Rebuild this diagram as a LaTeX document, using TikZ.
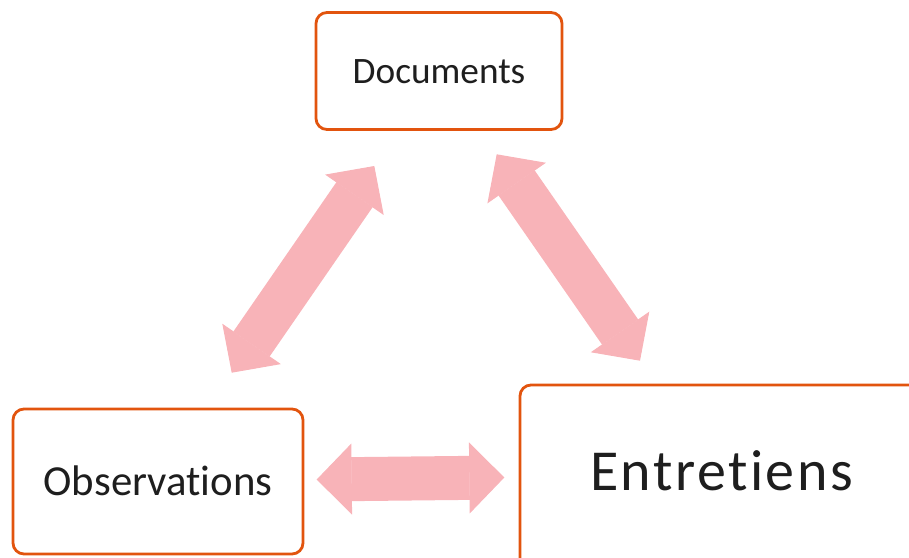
\documentclass[tikz,border=0pt]{standalone}
\usepackage{fontspec}
\setmainfont{Carlito}[RawFeature={-liga}]
\newfontfamily\widecarlito{Carlito}[RawFeature={-liga}, LetterSpace=4.3]
\usetikzlibrary{arrows.meta}
\definecolor{boxline}{RGB}{226,84,14}
\definecolor{linkpink}{RGB}{248,179,184}
\definecolor{inktext}{RGB}{30,30,30}
\tikzset{
  framebox/.style={draw=boxline, line width=2.8pt, rounded corners=11pt,
    fill=white, inner sep=0pt, text=inktext, text depth=0pt},
  blocklink/.style={draw=linkpink, line width=44pt,
    {Triangle[length=35pt, width=71pt, line width=1pt]}-{Triangle[length=35pt, width=71pt, line width=1pt]}}
}
\begin{document}
\begin{tikzpicture}[x=1pt, y=-1pt]
  \useasboundingbox (0,0) rectangle (909,557);
  \begin{scope}
    \clip (0,0) rectangle (909,557);
    % the three sources
    \node[framebox, minimum width=246pt, minimum height=117pt, text height=24pt,
      font=\fontsize{37.3}{40}\selectfont] (doc) at (439,71) {Documents};
    \node[framebox, minimum width=290pt, minimum height=145pt, text height=27.5pt,
      font=\fontsize{42.8}{46}\selectfont] (obs) at (158,481.5) {Observations};
    \node[framebox, minimum width=403pt, minimum height=190pt, text height=37.3pt,
      text depth=16pt, font=\widecarlito\fontsize{58}{62}\selectfont] (ent) at (721.5,480) {Entretiens};
  \end{scope}
  % ends of the double arrows
  \coordinate (l1) at (231.7,372.7);
  \coordinate (l2) at (374.3,166);
  \coordinate (r1) at (496.7,154.3);
  \coordinate (r2) at (640,360.7);
  \coordinate (h1) at (316.7,479.5);
  \coordinate (h2) at (504.3,477.5);
  \draw[blocklink] (l1) -- (l2);
  \draw[blocklink] (r1) -- (r2);
  \draw[blocklink] (h1) -- (h2);
\end{tikzpicture}
\end{document}
